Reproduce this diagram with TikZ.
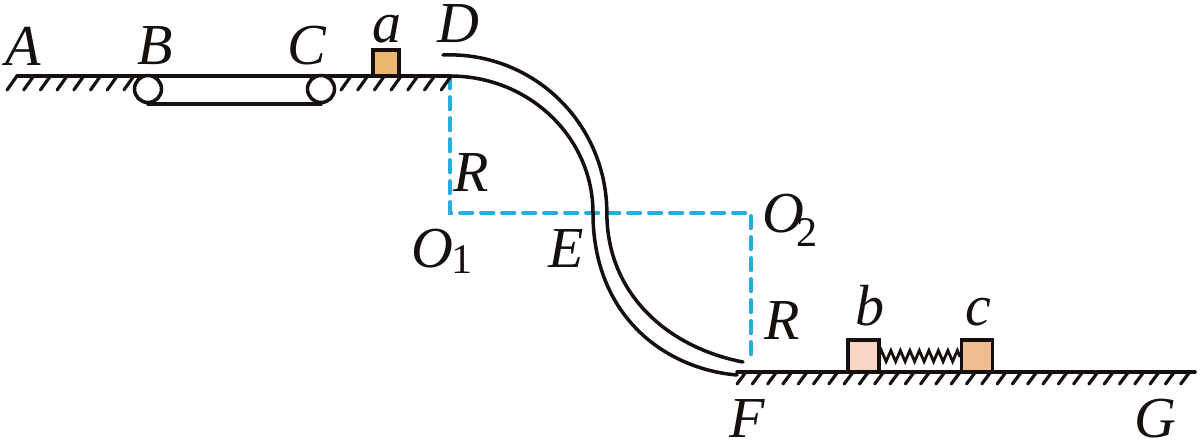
\documentclass[tikz,border=0pt]{standalone}
\usepackage{fontspec}
\setmainfont{Liberation Serif}
\usetikzlibrary{decorations.pathmorphing}
\definecolor{cyanline}{HTML}{29ABE2}
\definecolor{boxa}{HTML}{E9B76F}
\definecolor{boxb}{HTML}{F8D6C3}
\definecolor{boxc}{HTML}{EFBD90}
\definecolor{inkline}{HTML}{15100E}
\tikzset{
lab/.style={anchor=base,inner sep=0pt,text=inkline,font=\fontsize{33}{36}\selectfont\itshape},
blockbox/.style={draw=inkline,line width=2.2pt,anchor=south,inner sep=0pt,outer sep=0pt},
wheel/.style={circle,draw=inkline,fill=white,line width=2pt,minimum size=0.54cm,inner sep=0pt},
radius line/.style={draw=cyanline,line width=2.1pt,dash pattern=on 0.25cm off 0.17cm},
thick line/.style={draw=inkline,line width=2pt},
hatch line/.style={draw=inkline,line width=1.8pt}
}
\newcommand{\sublab}[3]{\kern#2{\upshape\fontsize{24}{24}\selectfont\raisebox{#3}{#1}}}
\begin{document}
\begin{tikzpicture}[x=0.02cm,y=0.02cm,line cap=round]
\useasboundingbox (0,0) rectangle (1200,446);
\path
(450,233) coordinate (O1)
(751,233) coordinate (O2)
(450,370) coordinate (P)
(751,86) coordinate (S);
%radius lines
\draw[radius line] (P)--(O1)--(O2)--(S);
%ground
\draw[thick line] (17,370)--(P);
\foreach \i in {0,1,2,3,4,5,6,7,20,21,22,23,24,25,26}
\draw[hatch line] ({7+16.7*\i},356)--({17+16.7*\i},370);
\draw[thick line] (737,74)--(1195,74);
\foreach \i in {0,...,29}
\draw[hatch line] ({737+15.3*\i},62)--({746+15.3*\i},74);
%belt
\node[wheel] (B) at (148,357) {};
\node[wheel] (C) at (321,357) {};
\draw[thick line] (B.south)--(C.south);
%track
\draw[thick line] (443,391) arc[start angle=92.5,end angle=0,x radius=157,y radius=158]
.. controls (607,150) and (670,98) .. (743,84);
\draw[thick line] (P) arc[start angle=90,end angle=0,x radius=143,y radius=137]
.. controls (593,130) and (665,77) .. (737,71);
%blocks
\node[blockbox,fill=boxa,minimum width=0.52cm,minimum height=0.52cm] (a) at (386,370) {};
\node[blockbox,fill=boxb,minimum width=0.62cm,minimum height=0.64cm] (b) at (863.5,74) {};
\node[blockbox,fill=boxc,minimum width=0.62cm,minimum height=0.64cm] (c) at (977,74) {};
\draw[draw=inkline,line width=1.6pt,decorate,decoration={zigzag,amplitude=0.11cm,segment length=0.19cm}] (b.east)--(c.west);
%labels
\node[lab] (lA) at (23,380) {A};
\node[lab] (lB) at (155,381) {B};
\node[lab] (lC) at (307,381) {C};
\node[lab] (la) at (387,403) {a};
\node[lab] (lD) at (458,403) {D};
\node[lab] (lR) at (471,254) {R};
\node[lab] (lO) at (442,178) {O\sublab{1}{-.02em}{-.12em}};
\node[lab] (lE) at (566,178) {E};
\node[lab] (lQ) at (790,213) {O\sublab{2}{-.12em}{-.32em}};
\node[lab] (lS) at (782,106) {R};
\node[lab] (lb) at (870,120) {b};
\node[lab] (lc) at (978,120) {c};
\node[lab] (lF) at (747,8) {F};
\node[lab] (lG) at (1155,8) {G};
\end{tikzpicture}
\end{document}
